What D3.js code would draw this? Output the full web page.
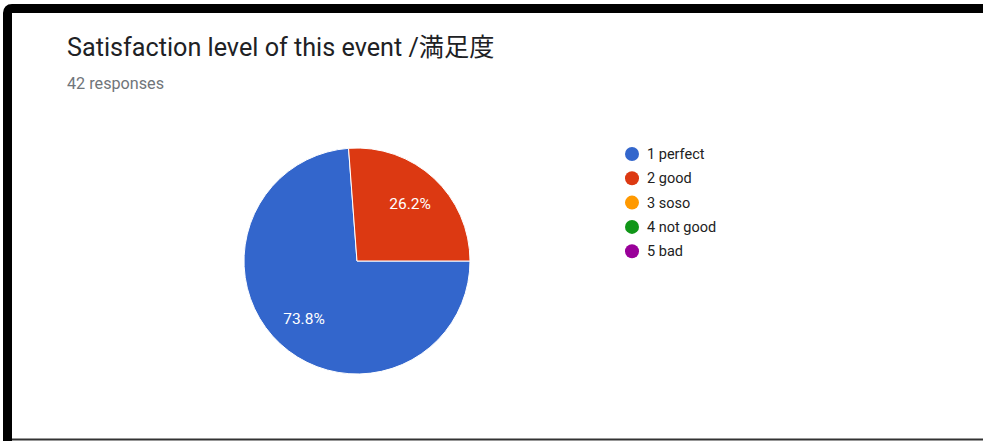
<!DOCTYPE html>
<html>
<head>
<meta charset="utf-8">
<script src="https://cdn.jsdelivr.net/npm/d3@7"></script>
<style>
  html, body { margin: 0; padding: 0; background: #fff; }
  svg { display: block; }
  text { font-family: Roboto, "Noto Sans CJK JP", sans-serif; }
</style>
</head>
<body>
<svg id="chart" width="983" height="441"></svg>
<script>
// Survey answers: "Satisfaction level of this event"
const categories = ["1 perfect", "2 good", "3 soso", "4 not good", "5 bad"];
const counts = [31, 11, 0, 0, 0];
const colors = ["#3366cc", "#dc3912", "#ff9900", "#109618", "#990099"];
const titleText = "Satisfaction level of this event /満足度";
const totalResponses = 42;

const svg = d3.select("#chart");

// Card frame
svg.append("path")
  .attr("d", "M7.5,441 L7.5,13 Q7.5,8.5 12,8.5 L983,8.5")
  .attr("fill", "none")
  .attr("stroke", "#000")
  .attr("stroke-width", 9);
svg.append("line")
  .attr("x1", 12).attr("x2", 983)
  .attr("y1", 439.5).attr("y2", 439.5)
  .attr("stroke", "#333")
  .attr("stroke-width", 2);

// Heading
svg.append("text")
  .attr("x", 67).attr("y", 56)
  .attr("font-size", 25.2)
  .attr("fill", "#202124")
  .text(titleText);
svg.append("text")
  .attr("x", 67).attr("y", 89)
  .attr("font-size", 16.2)
  .attr("fill", "#70757a")
  .text(totalResponses + " responses");

// Pie
const data = categories.map((c, i) => ({ name: c, value: counts[i], color: colors[i] }));
const cx = 357, cy = 261, r = 113;
const pie = d3.pie()
  .value(d => d.value)
  .sort(null)
  .startAngle(Math.PI / 2)
  .endAngle(Math.PI / 2 + 2 * Math.PI);
const arcs = pie(data).filter(d => d.value > 0);
const arc = d3.arc().innerRadius(0).outerRadius(r);
const labelArc = d3.arc().innerRadius(r * 0.69).outerRadius(r * 0.69);
const total = d3.sum(counts);

const g = svg.append("g").attr("transform", `translate(${cx},${cy})`);
g.selectAll("path.slice")
  .data(arcs)
  .join("path")
  .attr("class", "slice")
  .attr("d", arc)
  .attr("fill", d => d.data.color)
  .attr("stroke", "#fff")
  .attr("stroke-width", 1);

g.selectAll("text.pct")
  .data(arcs)
  .join("text")
  .attr("class", "pct")
  .attr("transform", d => `translate(${labelArc.centroid(d)})`)
  .attr("text-anchor", "middle")
  .attr("dy", "0.35em")
  .attr("font-size", 15.5)
  .attr("fill", "#fff")
  .text(d => (d.value / total * 100).toFixed(1) + "%");

// Legend
const legend = svg.append("g").attr("transform", "translate(632,154)");
const rowH = 24.3;
const items = legend.selectAll("g")
  .data(data)
  .join("g")
  .attr("transform", (d, i) => `translate(0,${i * rowH})`);
items.append("circle")
  .attr("r", 7)
  .attr("fill", d => d.color);
items.append("text")
  .attr("x", 15)
  .attr("dy", "0.35em")
  .attr("font-size", 14.5)
  .attr("fill", "#222")
  .text(d => d.name);
</script>
</body>
</html>
